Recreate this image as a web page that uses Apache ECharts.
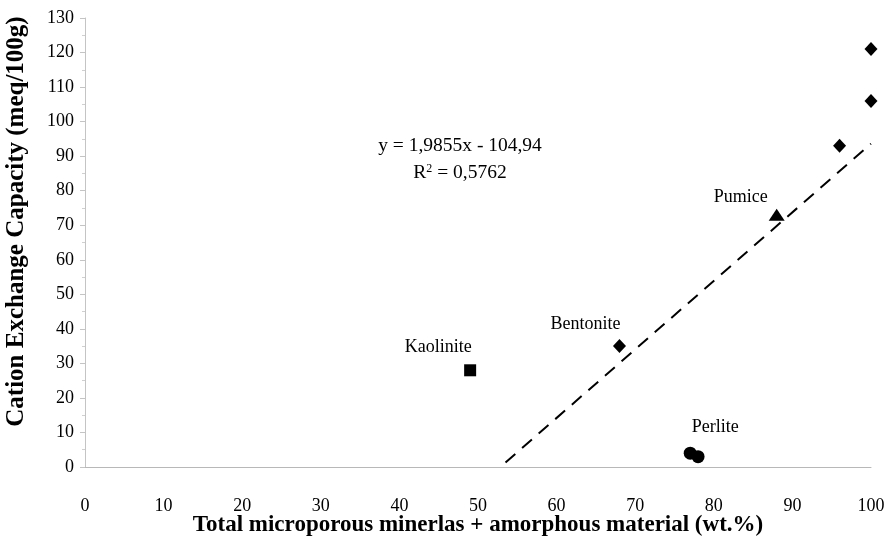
<!DOCTYPE html>
<html>
<head>
<meta charset="utf-8">
<script src="https://cdn.jsdelivr.net/npm/echarts@6/dist/echarts.min.js"></script>
<style>
html,body{margin:0;padding:0;background:#fff;}
#chart{width:887px;height:536px;}
</style>
</head>
<body>
<div id="chart"></div>
<script>
// ---- data ----
const xTicks = [0, 10, 20, 30, 40, 50, 60, 70, 80, 90, 100];
const yTicks = [0, 10, 20, 30, 40, 50, 60, 70, 80, 90, 100, 110, 120, 130];
const kaolinite = [[49, 28]];
const bentonite = [[68, 35]];
const perlite = [[77, 4], [78, 3]];
const pumice = [[88, 73]];
const otherSamples = [[96, 93], [100, 106], [100, 121]];
const trendLine = [[53.5, 1.3], [100, 93.6]];
const equationText = 'y = 1,9855x - 104,94';
const r2Text = '0,5762';
const xTitle = 'Total microporous minerlas + amorphous material (wt.%)';
const yTitle = 'Cation Exchange Capacity (meq/100g)';

const serif = '"Liberation Serif", "Times New Roman", serif';
const ink = '#000';

function labelled(points, name, offset) {
  return points.map((p, i) => i === 0 ? {
    value: p,
    label: { show: true, formatter: name, position: 'inside', offset: offset,
      color: ink, opacity: 1, fontFamily: serif, fontSize: 18 }
  } : { value: p });
}

const chart = echarts.init(document.getElementById('chart'), null, { renderer: 'canvas' });
chart.setOption({
  backgroundColor: '#fff',
  animation: false,
  grid: { left: 85, right: 16, top: 18, bottom: 69, containLabel: false, outerBoundsMode: 'none' },
  xAxis: {
    type: 'value', min: xTicks[0], max: xTicks[xTicks.length - 1], interval: 10,
    name: xTitle, nameLocation: 'middle', nameGap: 47, nameMoveOverlap: false,
    nameTextStyle: { fontFamily: serif, fontSize: 23, fontWeight: 'bold', color: ink },
    axisLine: { show: true, lineStyle: { color: '#b8b8b8', width: 1 } },
    axisTick: { show: false },
    axisLabel: { margin: 30, fontFamily: serif, fontSize: 18, color: ink },
    splitLine: { show: false }
  },
  yAxis: {
    type: 'value', min: yTicks[0], max: yTicks[yTicks.length - 1], interval: 10,
    name: yTitle, nameLocation: 'middle', nameGap: 56,
    nameTextStyle: { fontFamily: serif, fontSize: 25, fontWeight: 'bold', color: ink, padding: [0, 0, 0, 42] },
    axisLine: { show: true, lineStyle: { color: '#c4c4c4', width: 1 } },
    axisTick: { show: true, inside: false, length: 5, lineStyle: { color: '#c4c4c4' } },
    minorTick: { show: true, splitNumber: 2, length: 3, lineStyle: { color: '#d0d0d0' } },
    axisLabel: { margin: 11, fontFamily: serif, fontSize: 18, color: ink },
    splitLine: { show: false }
  },
  series: [
    {
      type: 'line', data: trendLine, symbol: 'none', silent: true,
      lineStyle: { color: ink, width: 2, type: [13, 9] }, z: 1
    },
    {
      type: 'scatter', data: labelled(kaolinite, 'Kaolinite', [-32, -23]),
      symbol: 'rect', symbolSize: 12, itemStyle: { color: ink, opacity: 1 }
    },
    {
      type: 'scatter', data: labelled(bentonite, 'Bentonite', [-34, -22]),
      symbol: 'diamond', symbolSize: [13, 14], itemStyle: { color: ink, opacity: 1 }
    },
    {
      type: 'scatter', data: labelled(perlite, 'Perlite', [25, -26]),
      symbol: 'circle', symbolSize: 13, itemStyle: { color: ink, opacity: 1 }
    },
    {
      type: 'scatter', data: labelled(pumice, 'Pumice', [-36, -18]),
      symbol: 'triangle', symbolSize: [16, 12], itemStyle: { color: ink, opacity: 1 }
    },
    {
      type: 'scatter', data: otherSamples,
      symbol: 'diamond', symbolSize: [13, 14], itemStyle: { color: ink, opacity: 1 }
    }
  ],
  graphic: [
    {
      type: 'text', position: [460, 136], z: 10,
      style: { text: equationText, fontFamily: serif, fontSize: 19.5, fill: ink, align: 'center' }
    },
    {
      type: 'text', position: [460, 163], z: 10,
      style: {
        text: '{b|R}{s|2}{b| = ' + r2Text + '}',
        align: 'center',
        rich: {
          b: { fontFamily: serif, fontSize: 19.5, fill: ink, color: ink },
          s: { fontFamily: serif, fontSize: 12, fill: ink, color: ink, verticalAlign: 'top', padding: [0, 0, 8, 0] }
        }
      }
    }
  ]
});
</script>
</body>
</html>
